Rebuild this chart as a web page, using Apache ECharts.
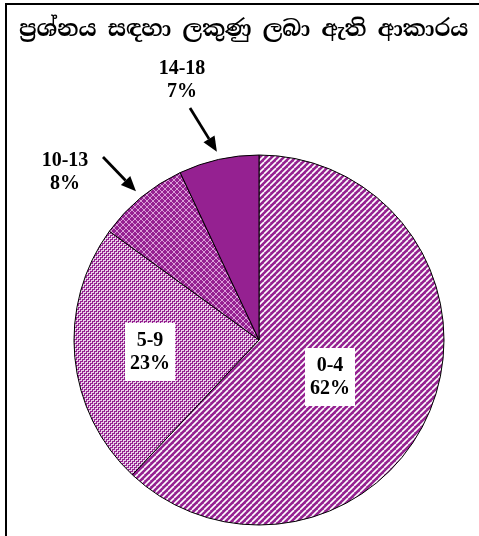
<!DOCTYPE html>
<html>
<head>
<meta charset="utf-8">
<script src="https://cdn.jsdelivr.net/npm/echarts@6/dist/echarts.min.js"></script>
<style>
  html, body { margin: 0; padding: 0; background: #fff; }
  #chart { width: 479px; height: 536px; }
</style>
</head>
<body>
<div id="chart"></div>
<script>
// data
const titleText = 'ප්‍රශ්නය සඳහා ලකුණු ලබා ඇති ආකාරය'
const categories = ['0-4', '5-9', '10-13', '14-18']
const percents = [62, 23, 8, 7]

const purple = '#952191'
const cx = 259
const cy = 340
const radius = 185

// where each label sits (centre of text block)
const labelPos = [[330, 377], [150, 352], [65, 172], [182, 80]]
const outside = [false, false, true, true]

const makeTile = (size, draw) => {
  const c = document.createElement('canvas')
  c.width = size
  c.height = size
  const ctx = c.getContext('2d')
  ctx.fillStyle = purple
  ctx.fillRect(0, 0, size, size)
  draw(ctx, size)
  return c
}

// diagonal stripes
const stripes = makeTile(6, (ctx, s) => {
  ctx.strokeStyle = '#fff'
  ctx.lineWidth = 1.6
  ;[-s, 0, s].forEach((o) => {
    ctx.beginPath()
    ctx.moveTo(o, s)
    ctx.lineTo(o + s, 0)
    ctx.stroke()
  })
})

// small weave
const weave = makeTile(4, (ctx) => {
  ctx.fillStyle = 'rgba(255,255,255,0.8)'
  ctx.fillRect(0, 0, 2, 1)
  ctx.fillRect(3, 0, 1, 2)
  ctx.fillRect(2, 2, 2, 1)
  ctx.fillRect(1, 2, 1, 2)
})

// diagonal cross-hatch
const hatch = makeTile(6, (ctx, s) => {
  ctx.strokeStyle = 'rgba(255,225,255,0.65)'
  ctx.lineWidth = 1
  ;[-s, 0, s].forEach((o) => {
    ctx.beginPath()
    ctx.moveTo(o, s)
    ctx.lineTo(o + s, 0)
    ctx.stroke()
    ctx.beginPath()
    ctx.moveTo(o, 0)
    ctx.lineTo(o + s, s)
    ctx.stroke()
  })
})

const fills = [
  { image: stripes, repeat: 'repeat' },
  { image: weave, repeat: 'repeat' },
  { image: hatch, repeat: 'repeat' },
  purple,
]

// arrows from the outside labels to their slices
const total = percents.reduce((a, b) => a + b, 0)
const arrows = []
let acc = 0
percents.forEach((v, i) => {
  const mid = ((acc + v / 2) / total) * Math.PI * 2
  acc += v
  if (!outside[i]) return
  const tip = [cx + (radius + 8) * Math.sin(mid), cy - (radius + 8) * Math.cos(mid)]
  const lp = labelPos[i]
  const tail = i === 3 ? [lp[0] + 8, lp[1] + 28] : [lp[0] + 38, lp[1] - 15]
  const dx = tip[0] - tail[0]
  const dy = tip[1] - tail[1]
  const len = Math.sqrt(dx * dx + dy * dy)
  const ux = dx / len
  const uy = dy / len
  const base = [tip[0] - ux * 15, tip[1] - uy * 15]
  arrows.push({
    type: 'line',
    shape: { x1: tail[0], y1: tail[1], x2: base[0], y2: base[1] },
    style: { stroke: '#000', lineWidth: 2.8 },
  })
  arrows.push({
    type: 'polygon',
    shape: {
      points: [
        tip,
        [base[0] - uy * 6.5, base[1] + ux * 6.5],
        [base[0] + uy * 6.5, base[1] - ux * 6.5],
      ],
    },
    style: { fill: '#000' },
  })
})

const chart = echarts.init(document.getElementById('chart'))

const option = {
  animation: false,
  title: {
    text: titleText,
    left: 14,
    top: 14,
    textStyle: {
      fontFamily: "'Noto Serif Sinhala', 'Noto Sans Sinhala', 'Iskoola Pota', 'DejaVu Sans', sans-serif",
      fontSize: 22.4,
      fontWeight: 'bold',
      color: '#000',
    },
  },
  graphic: [
    {
      type: 'rect',
      shape: { x: 6, y: 4, width: 600, height: 700 },
      style: { fill: 'none', stroke: '#000', lineWidth: 2 },
      z: 10,
    },
    ...arrows,
  ],
  series: [
    {
      type: 'pie',
      center: [cx, cy],
      radius: radius,
      startAngle: 90,
      clockwise: true,
      itemStyle: { borderColor: '#000', borderWidth: 1 },
      emphasis: { disabled: true },
      labelLine: { show: false },
      label: {
        show: true,
        position: 'inside',
        formatter: (p) => `${p.name}\n${p.value}%`,
        fontFamily: "'Liberation Serif', 'Times New Roman', serif",
        fontWeight: 'bold',
        fontSize: 20,
        lineHeight: 23,
        color: '#000',
        align: 'center',
      },
      labelLayout: (params) => {
        const p = labelPos[params.dataIndex]
        return { x: p[0], y: p[1], align: 'center', verticalAlign: 'middle' }
      },
      data: categories.map((name, i) => ({
        name: name,
        value: percents[i],
        itemStyle: { color: fills[i] },
        label: outside[i]
          ? {}
          : { backgroundColor: '#fff', padding: [6, 5, 6, 5] },
      })),
    },
  ],
}

chart.setOption(option)
</script>
</body>
</html>
